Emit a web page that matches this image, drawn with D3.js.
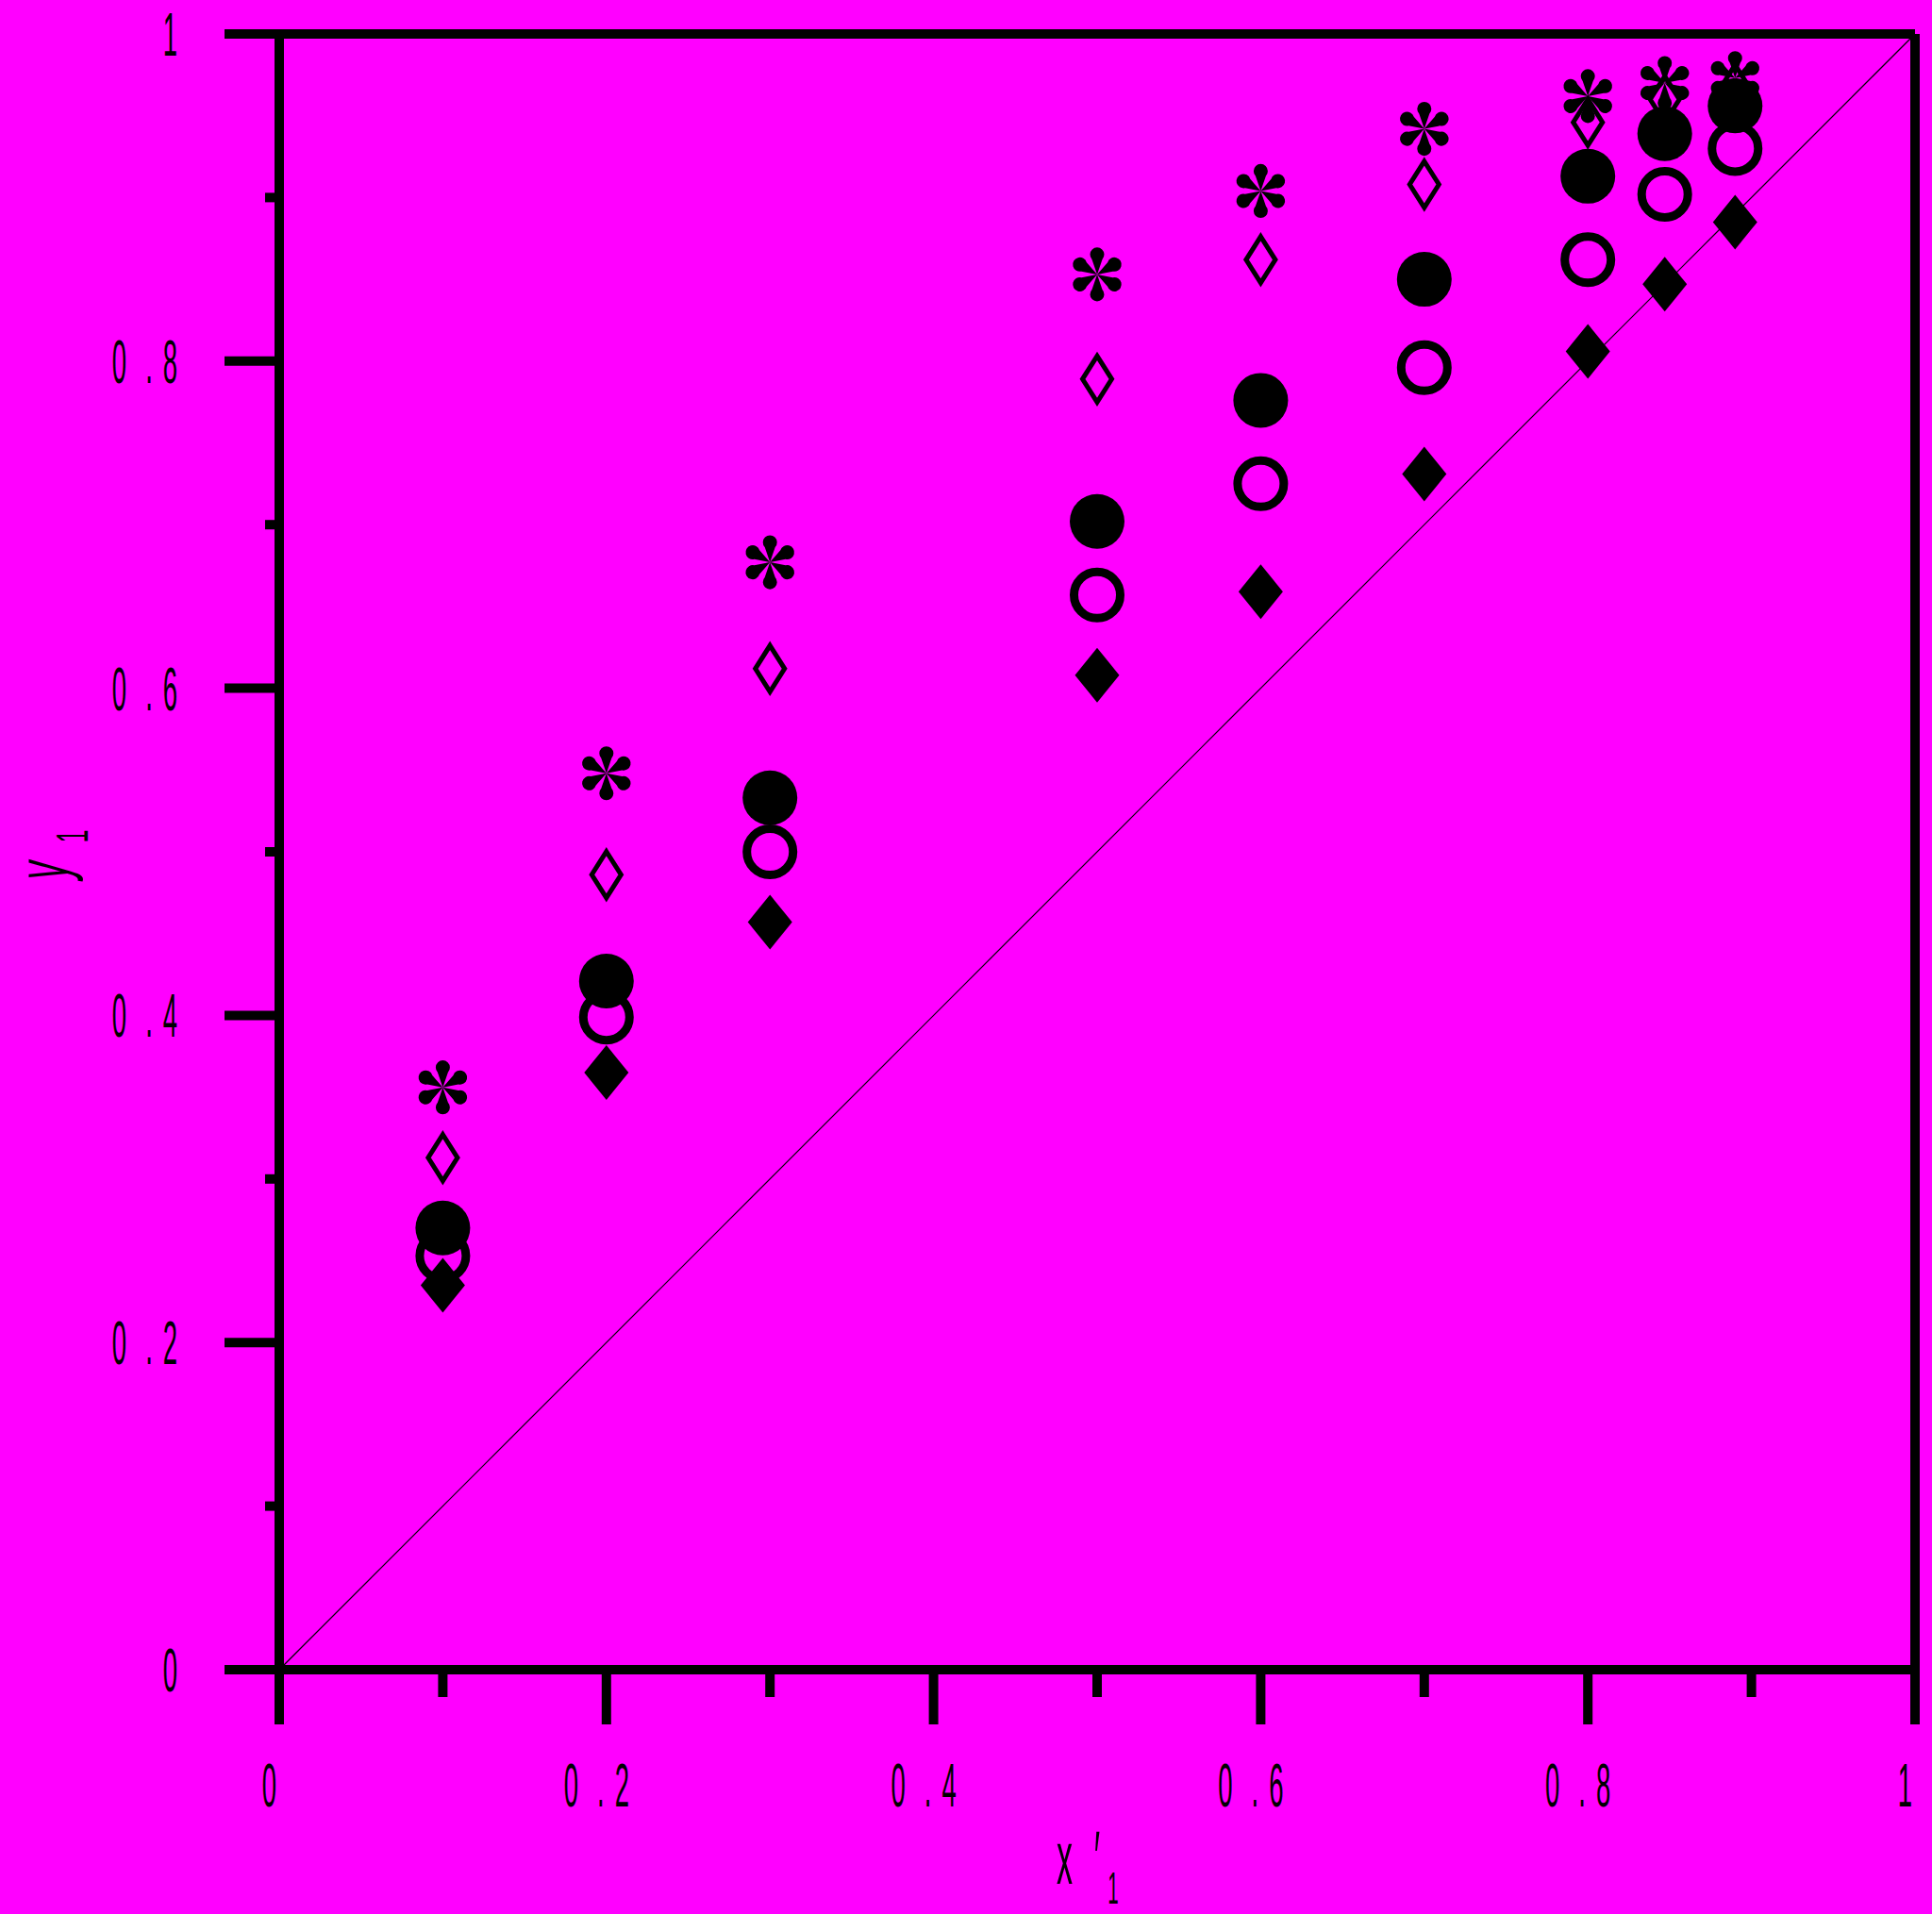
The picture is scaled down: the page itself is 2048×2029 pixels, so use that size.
<!DOCTYPE html>
<html>
<head>
<meta charset="utf-8">
<script src="https://cdn.jsdelivr.net/npm/d3@7"></script>
<style>
  html, body { margin: 0; padding: 0; background: #ff00ff; }
  svg { display: block; }
</style>
</head>
<body>
<div id="chart"></div>
<script>
// ---- data ----
const xValues = [0.1, 0.2, 0.3, 0.5, 0.6, 0.7, 0.8, 0.847, 0.89];
const seriesAsterisk      = [0.356, 0.548, 0.677, 0.853, 0.904, 0.942, 0.962, 0.970, 0.973];
const seriesOpenDiamond   = [0.313, 0.486, 0.612, 0.789, 0.862, 0.908, 0.946, 0.960, 0.967];
const seriesFilledCircle  = [0.270, 0.421, 0.533, 0.702, 0.776, 0.850, 0.913, 0.939, 0.956];
const seriesOpenCircle    = [0.253, 0.399, 0.500, 0.657, 0.725, 0.796, 0.862, 0.902, 0.930];
const seriesFilledDiamond = [0.235, 0.365, 0.457, 0.608, 0.659, 0.731, 0.806, 0.847, 0.885];
const majorTicks = [0, 0.2, 0.4, 0.6, 0.8, 1];
const minorTicks = [0.1, 0.3, 0.5, 0.7, 0.9];
const xTickLabels = ["0", "0.2", "0.4", "0.6", "0.8", "1"];
const yTickLabels = ["0", "0.2", "0.4", "0.6", "0.8", "1"];
const diagonal = [0, 1];

// ---- layout ----
const W = 2048, H = 2029;
const svg = d3.select("#chart").append("svg").attr("width", W).attr("height", H);
svg.append("rect").attr("width", W).attr("height", H).attr("fill", "#ff00ff");

const x = d3.scaleLinear().domain([0, 1]).range([296, 2030]);
const y = d3.scaleLinear().domain([0, 1]).range([1770, 36]);
const FONT = "'Liberation Sans', Arial, sans-serif";
const SX = 0.43;

// diagonal reference line
svg.append("line")
  .attr("x1", x(diagonal[0])).attr("y1", y(diagonal[0]))
  .attr("x2", x(diagonal[1])).attr("y2", y(diagonal[1]))
  .attr("stroke", "#000").attr("stroke-width", 1.2);

// frame
const frame = svg.append("g").attr("stroke", "#000").attr("stroke-width", 10).attr("stroke-linecap", "butt");
const yMajorLen = 58, yMinorLen = 15, xMajorLen = 58, xMinorLen = 29;
frame.append("line").attr("x1", x(0) - yMajorLen).attr("x2", x(1)).attr("y1", y(1)).attr("y2", y(1));
frame.append("line").attr("x1", x(0) - yMajorLen).attr("x2", x(1)).attr("y1", y(0)).attr("y2", y(0));
frame.append("line").attr("x1", x(0)).attr("x2", x(0)).attr("y1", y(1) - 5).attr("y2", y(0) + xMajorLen);
frame.append("line").attr("x1", x(1)).attr("x2", x(1)).attr("y1", y(1)).attr("y2", y(0) + xMajorLen);

frame.selectAll(".ymaj").data(majorTicks.slice(1, -1)).enter().append("line")
  .attr("x1", x(0) - yMajorLen).attr("x2", x(0)).attr("y1", d => y(d)).attr("y2", d => y(d));
frame.selectAll(".ymin").data(minorTicks).enter().append("line")
  .attr("x1", x(0) - yMinorLen).attr("x2", x(0)).attr("y1", d => y(d)).attr("y2", d => y(d));
frame.selectAll(".xmaj").data(majorTicks.slice(1, -1)).enter().append("line")
  .attr("x1", d => x(d)).attr("x2", d => x(d)).attr("y1", y(0)).attr("y2", y(0) + xMajorLen);
frame.selectAll(".xmin").data(minorTicks).enter().append("line")
  .attr("x1", d => x(d)).attr("x2", d => x(d)).attr("y1", y(0)).attr("y2", y(0) + xMinorLen);

// condensed, letter-spaced tick labels
function charPositions(str) {
  const pos = []; let p = 0;
  for (let i = 0; i < str.length; i++) {
    if (i > 0) p += (str[i - 1] === ".") ? 22.5 : (str[i] === "." ? 31.5 : 27);
    pos.push(p);
  }
  return pos;
}
function drawLabel(parent, str, cx, cy, size) {
  const pos = charPositions(str);
  const mid = (pos[0] + pos[pos.length - 1]) / 2;
  const g = parent.append("g").attr("transform", `translate(${cx},${cy}) scale(${SX},1)`);
  const t = g.append("text").attr("font-family", FONT).attr("font-size", size)
    .attr("text-anchor", "middle").attr("fill", "#000");
  str.split("").forEach((c, i) => {
    t.append("tspan").attr("x", (pos[i] - mid) / SX).attr("y", 0.358 * size).text(c);
  });
}
const labels = svg.append("g");
majorTicks.forEach((v, i) => {
  drawLabel(labels, xTickLabels[i], x(v) - 10.5, 1892, 64);
  const s = yTickLabels[i];
  const pos = charPositions(s);
  const mid = (pos[0] + pos[pos.length - 1]) / 2;
  drawLabel(labels, s, 180.5 - (pos[pos.length - 1] - mid), y(v), 64);
});

// axis titles
const xt = svg.append("g").attr("transform", `translate(0,0) scale(${SX},1)`)
  .append("text").attr("font-family", FONT).attr("text-anchor", "middle").attr("fill", "#000");
xt.append("tspan").attr("x", 1128.5 / SX).attr("y", 1997).attr("font-size", 79).text("x");
xt.append("tspan").attr("x", 1163 / SX).attr("y", 1997).attr("font-size", 79).text("\u2032");
xt.append("tspan").attr("x", 1180 / SX).attr("y", 2018).attr("font-size", 48).text("1");

const YSX = 0.5;
const yt = svg.append("g").attr("transform", `translate(71.5,922.5) rotate(-90) scale(${YSX},1)`)
  .append("text").attr("font-family", FONT).attr("font-style", "italic").attr("text-anchor", "middle").attr("fill", "#000");
yt.append("tspan").attr("x", 0).attr("y", 0).attr("font-size", 78).text("y");
yt.append("tspan").attr("x", 36 / YSX).attr("y", 21.5).attr("font-size", 49).attr("font-style", "normal").text("1");

// ---- markers ----
const pts = arr => arr.map((v, i) => [xValues[i], v]);
const marks = svg.append("g");

marks.selectAll(".fd").data(pts(seriesFilledDiamond)).enter().append("path")
  .attr("d", "M0,-29L23.5,0L0,29L-23.5,0Z")
  .attr("transform", d => `translate(${x(d[0])},${y(d[1])})`)
  .attr("fill", "#000");
marks.selectAll(".oc").data(pts(seriesOpenCircle)).enter().append("circle")
  .attr("cx", d => x(d[0])).attr("cy", d => y(d[1])).attr("r", 24.5)
  .attr("fill", "none").attr("stroke", "#000").attr("stroke-width", 9);
marks.selectAll(".fc").data(pts(seriesFilledCircle)).enter().append("circle")
  .attr("cx", d => x(d[0])).attr("cy", d => y(d[1])).attr("r", 29)
  .attr("fill", "#000");
marks.selectAll(".od").data(pts(seriesOpenDiamond)).enter().append("path")
  .attr("d", "M0,-24.5L15.5,0L0,24.5L-15.5,0Z")
  .attr("transform", d => `translate(${x(d[0])},${y(d[1])})`)
  .attr("fill", "none").attr("stroke", "#000").attr("stroke-width", 5);
// asterisks (six teardrop petals)
const petal = "M0,0L-5.5,-16A7.5,7.5 0 1,1 5.5,-16Z";
const ast = marks.selectAll(".as").data(pts(seriesAsterisk)).enter().append("g")
  .attr("transform", d => `translate(${x(d[0])},${y(d[1])})`);
[0, 60, 120, 180, 240, 300].forEach(a => {
  ast.append("path").attr("d", petal).attr("transform", `rotate(${a})`).attr("fill", "#000");
});
</script>
</body>
</html>
